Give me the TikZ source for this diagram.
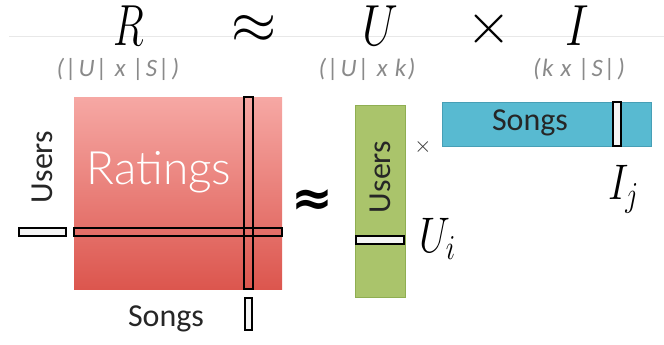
\RequirePackage{fix-cm}
\documentclass[tikz,border=0pt]{standalone}
\usepackage{fontspec}
\setmainfont{Carlito}
\newfontfamily\ratfont{Lato Light}
\newfontfamily\djv{DejaVu Sans}
\definecolor{redtop}{HTML}{F6A8A4}
\definecolor{redbot}{HTML}{DC564E}
\definecolor{greenfill}{HTML}{AAC46B}
\definecolor{greenline}{HTML}{8FAE52}
\definecolor{bluefill}{HTML}{58BAD1}
\definecolor{blueline}{HTML}{479FB6}
\definecolor{subgray}{HTML}{8A8A8A}
\newcommand{\narrow}[1]{\scalebox{0.8}[1]{#1}}
\begin{document}
\begin{tikzpicture}[x=1pt,y=-1pt,
  mat/.style={inner sep=0pt, outer sep=0pt},
  bar/.style={draw=black, line width=1.4pt, fill=gray!8, inner sep=0pt, outer sep=0pt},
  bigmath/.style={inner sep=0pt, font=\fontsize{58}{58}\selectfont},
  sub/.style={inner sep=0pt, text=subgray, font=\fontsize{25}{25}\selectfont\itshape\addfontfeatures{LetterSpace=6}},
  lbl/.style={inner sep=0pt, text=black!85, font=\fontsize{32}{32}\selectfont},
  idx/.style={inner sep=0pt, font=\fontsize{50}{50}\selectfont}]
\useasboundingbox (0,0) rectangle (664,345);
\coordinate (la) at (9,36);
\coordinate (lb) at (664,36);
\draw[gray!18, line width=0.8pt] (la) -- (lb);
% top formula
\node[bigmath, anchor=base] (R) at (129,46) {\scalebox{0.7}[1]{$R$}};
\node[bigmath] (ap) at (254.5,29) {$\approx$};
\node[bigmath, anchor=base] (U) at (380,46) {\narrow{$U$}};
\node[bigmath] (tx) at (489,29) {$\times$};
\node[bigmath, anchor=base] (I) at (577,46) {\narrow{$I$}};
\node[sub] (sR) at (118,69) {(|U| x |S|)};
\node[sub] (sU) at (367,69) {(|U| x k)};
\node[sub] (sI) at (579,69) {(k x |S|)};
% ratings matrix
\node[mat, minimum width=208pt, minimum height=192pt, top color=redtop, bottom color=redbot] (Rm) at (178,193) {};
\node[inner sep=0pt, text=white, font=\ratfont\fontsize{46}{46}\selectfont] (rat) at (159,172) {Ratings};
\node[bar, minimum width=208pt, minimum height=8pt, fill=none] (hb) at (178,232) {};
\node[bar, minimum width=9pt, minimum height=192pt, fill=none] (vb) at (248.5,193) {};
\node[bar, minimum width=47pt, minimum height=8pt] (lbar) at (42.5,232) {};
\node[bar, minimum width=7pt, minimum height=32pt] (bbar) at (248.5,314) {};
\node[lbl, rotate=90] (users1) at (42,167) {Users};
\node[lbl] (songs1) at (166,319) {Songs};
% approx
\node[inner sep=0pt, font=\djv\bfseries\fontsize{50}{50}\selectfont] (bap) at (312,203) {≈};
% U matrix
\node[mat, draw=greenline, line width=1pt, fill=greenfill, minimum width=50pt, minimum height=192pt] (Um) at (380,201) {};
\node[lbl, rotate=90] (users2) at (380,177) {Users};
\node[bar, minimum width=48pt, minimum height=8pt] (ub) at (380,240) {};
\node[idx, anchor=base west] (Ui) at (419,252) {\narrow{$U_i$}};
\node[inner sep=0pt, text=black!80, font=\fontsize{22}{22}\selectfont] (sx) at (423,147) {$\times$};
% I matrix
\node[mat, draw=blueline, line width=1pt, fill=bluefill, minimum width=209pt, minimum height=44pt] (Im) at (546.5,124) {};
\node[lbl] (songs2) at (530,123) {Songs};
\node[bar, minimum width=8pt, minimum height=44pt] (ib) at (617,124) {};
\node[idx, anchor=base west] (Ij) at (608,199) {\narrow{$I_j$}};
\end{tikzpicture}
\end{document}
